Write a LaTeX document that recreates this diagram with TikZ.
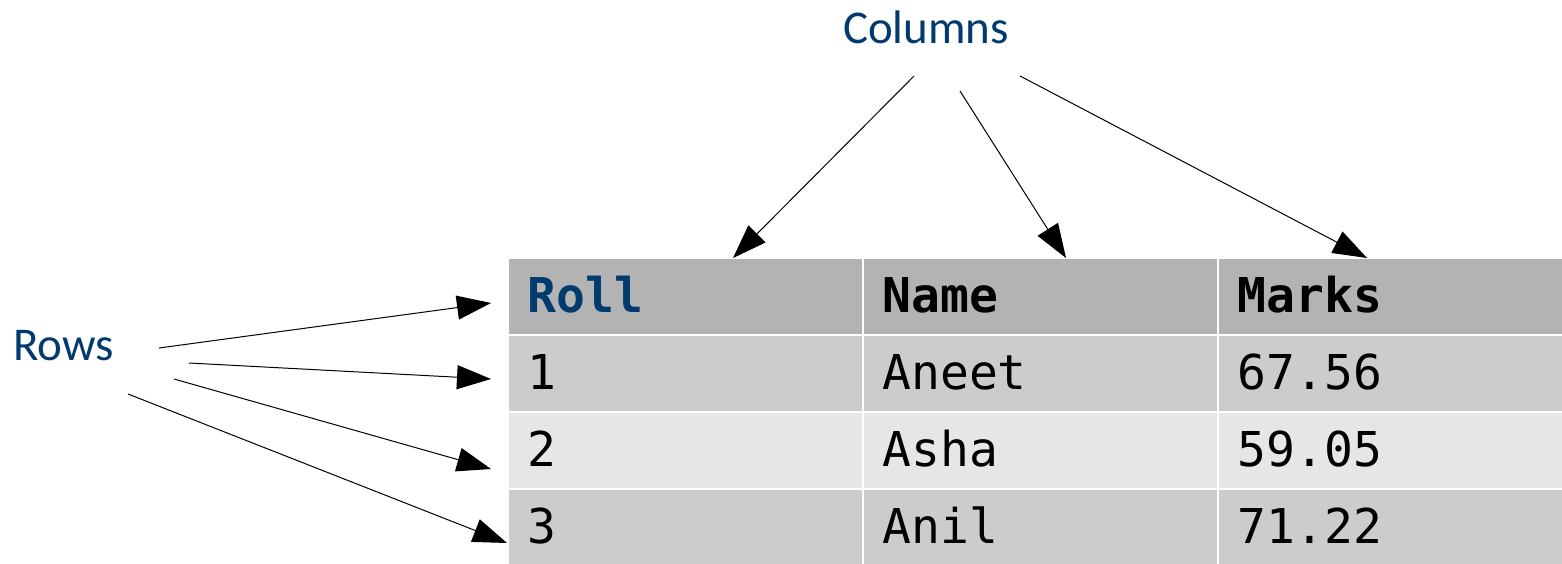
\documentclass[tikz,border=0pt]{standalone}
\usepackage{fontspec}
\setmainfont{Carlito}
\setmonofont{DejaVu Sans Mono}
\usetikzlibrary{arrows.meta,positioning,calc}

\definecolor{labelblue}{RGB}{0,58,110}
\definecolor{headgray}{RGB}{179,179,179}
\definecolor{rowgray}{RGB}{204,204,204}
\definecolor{rowlight}{RGB}{230,230,230}

\tikzset{
  cell/.style={draw=white, line width=1pt},
  celltext/.style={anchor=base west, inner sep=0pt,
    font=\ttfamily\fontsize{24pt}{28pt}\selectfont},
  headtext/.style={celltext,
    font=\ttfamily\bfseries\fontsize{24pt}{28pt}\selectfont},
  sidelabel/.style={text=labelblue, inner sep=0pt,
    font=\fontsize{23.5pt}{28pt}\selectfont},
  pointer/.style={-{Triangle[length=17pt,width=12pt]}, line width=0.5pt}
}

\begin{document}
\begin{tikzpicture}[x=0.5pt, y=-0.5pt]
  \useasboundingbox (0,0) rectangle (1562,563);
  % table cells
  \foreach \y/\c in {258/headgray,335/rowgray,412/rowlight,489/rowgray}
    \foreach \x/\xx in {508/863,863/1218,1218/1566}
      \filldraw[cell, fill=\c] (\x,\y) rectangle (\xx,\y+77);
  % header
  \node[headtext, text=labelblue] (roll) at (527,312) {Roll};
  \node[headtext] (name) at (882,312) {Name};
  \node[headtext] (marks) at (1237,312) {Marks};
  % rows
  \node[celltext] (rollone) at (527,389) {1};
  \node[celltext] (nameone) at (882,389) {Aneet};
  \node[celltext] (marksone) at (1237,389) {67.56};
  \node[celltext] (rolltwo) at (527,466) {2};
  \node[celltext] (nametwo) at (882,466) {Asha};
  \node[celltext] (markstwo) at (1237,466) {59.05};
  \node[celltext] (rollthree) at (527,543) {3};
  \node[celltext] (namethree) at (882,543) {Anil};
  \node[celltext] (marksthree) at (1237,543) {71.22};
  % labels
  \node[sidelabel, anchor=base] (columns) at (926,43) {Columns};
  \node[sidelabel, anchor=base west] (rows) at (13,360) {Rows};
  % arrow ends
  \coordinate (colfrom1) at (914,76);
  \coordinate (colfrom2) at (960,91);
  \coordinate (colfrom3) at (1020,76);
  \coordinate (colto1) at (733,258);
  \coordinate (colto2) at (1066,258);
  \coordinate (colto3) at (1367,258);
  \coordinate (rowfrom1) at (159,348);
  \coordinate (rowfrom2) at (189,363);
  \coordinate (rowfrom3) at (174,379);
  \coordinate (rowfrom4) at (128,394);
  \coordinate (rowto1) at (491,303);
  \coordinate (rowto2) at (491,379);
  \coordinate (rowto3) at (491,469);
  \coordinate (rowto4) at (507,543);
  % Draw arrows
  \draw[pointer] (colfrom1) -- (colto1);
  \draw[pointer] (colfrom2) -- (colto2);
  \draw[pointer] (colfrom3) -- (colto3);
  \draw[pointer] (rowfrom1) -- (rowto1);
  \draw[pointer] (rowfrom2) -- (rowto2);
  \draw[pointer] (rowfrom3) -- (rowto3);
  \draw[pointer] (rowfrom4) -- (rowto4);
\end{tikzpicture}
\end{document}
